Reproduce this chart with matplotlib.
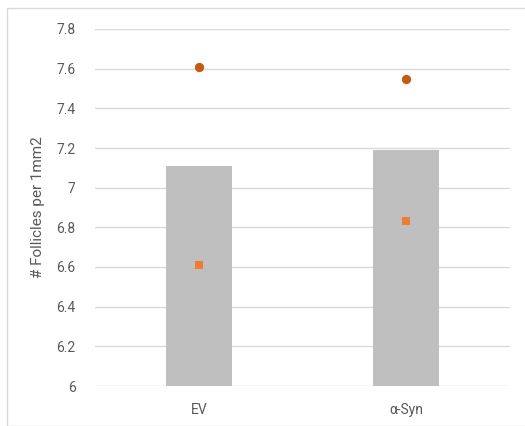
import matplotlib
matplotlib.use("Agg")
import matplotlib.pyplot as plt
from matplotlib.patches import Rectangle

categories = ["EV", "α-Syn"]
bar_values = [7.11, 7.19]
circle_values = [7.61, 7.55]
square_values = [6.61, 6.83]
yticks = [6, 6.2, 6.4, 6.6, 6.8, 7, 7.2, 7.4, 7.6, 7.8]
ytick_labels = ["6", "6.2", "6.4", "6.6", "6.8", "7", "7.2", "7.4", "7.6", "7.8"]

plt.rcParams['font.family'] = ['Roboto', 'DejaVu Sans']

W, H = 525, 426
fig = plt.figure(figsize=(W / 100, H / 100), dpi=100)
fig.patches.append(Rectangle((7 / W, 0), 1, 1 - 8 / H, transform=fig.transFigure,
                             fill=False, edgecolor="#D9D9D9", linewidth=1))

ax = fig.add_axes([95 / W, 1 - 386 / H, 415 / W, 357 / H])
x = list(range(len(categories)))
ax.bar(x, [v - 6 for v in bar_values], bottom=6, width=0.32, color="#BFBFBF", zorder=2)
ax.scatter(x, circle_values, marker="o", s=45, color="#C55A11", zorder=3, linewidths=0)
ax.scatter(x, square_values, marker="s", s=40, color="#ED7D31", zorder=3, linewidths=0)

ax.set_xlim(-0.5, 1.5)
ax.set_ylim(6, 7.8)
ax.set_yticks(yticks)
ax.set_yticklabels(ytick_labels)
ax.set_xticks(x)
ax.set_xticklabels(categories)
ax.grid(axis="y", color="#D9D9D9", linewidth=1, zorder=0)
ax.set_axisbelow(True)
for s in ax.spines.values():
    s.set_visible(False)
ax.tick_params(axis="both", length=0, colors="#595959", labelsize=10)
ax.tick_params(axis="y", pad=14)
ax.tick_params(axis="x", pad=12)
ax.set_ylabel("# Follicles per 1mm2", color="#595959", fontsize=11, labelpad=8)

fig.savefig("out.png", dpi=100)
